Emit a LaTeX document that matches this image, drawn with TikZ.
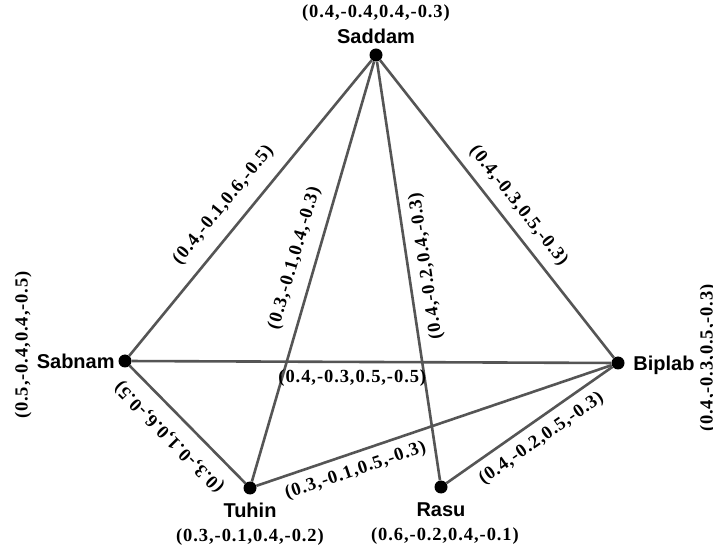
\documentclass[tikz,border=0pt]{standalone}
\usepackage{fontspec}
\setmainfont{Liberation Serif}
\newfontfamily\namefont{Liberation Sans}
\newfontfamily\tuplefont[LetterSpace=5]{Liberation Serif}
\usetikzlibrary{positioning}
\definecolor{Edge}{HTML}{555555}
\tikzset{
 dot/.style={circle, fill=black, inner sep=0pt, minimum size=13pt},
 who/.style={font=\namefont\bfseries\fontsize{20}{22}\selectfont, inner sep=0pt, text height=14.5pt, text depth=0pt},
 tuple/.style={font=\tuplefont\bfseries\fontsize{18.5}{20}\selectfont, inner sep=0pt, text height=13pt, text depth=4pt},
 link/.style={draw=Edge, line width=2.6pt}
}
\begin{document}
\begin{tikzpicture}[x=1pt,y=1pt]
\useasboundingbox (0,0) rectangle (713,555);
\fill[white] (0,0) rectangle (713,555);
% people
\node[dot] (saddam) at (376,500) {};
\node[dot] (sabnam) at (125,194) {};
\node[dot] (biplab) at (618,192) {};
\node[dot] (tuhin) at (250,67) {};
\node[dot] (rasu) at (441,68) {};
% names and own values
\node[who, above=5pt of saddam] (saddamname) {Saddam};
\node[tuple, above=7pt of saddamname] (saddamval) {(0.4,-0.4,0.4,-0.3)};
\node[who, left=3.5pt of sabnam] (sabnamname) {Sabnam};
\node[tuple, rotate=90] (sabnamval) at (23,210) {(0.5,-0.4,0.4,-0.5)};
\node[who, right=8.5pt of biplab] (biplabname) {Biplab};
\node[tuple, rotate=90] (biplabval) at (708,197) {(0.4,-0.3,0.5,-0.3)};
\node[who, below=8pt of tuhin] (tuhinname) {Tuhin};
\node[tuple, below=11pt of tuhinname] (tuhinval) {(0.3,-0.1,0.4,-0.2)};
\node[who, below=8pt of rasu] (rasuname) {Rasu};
\node[tuple, below=11pt of rasuname, xshift=4pt] (rasuval) {(0.6,-0.2,0.4,-0.1)};
% links
\draw[link] (sabnam) -- node[tuple, sloped, above=13pt, pos=.461] {(0.4,-0.1,0.6,-0.5)} (saddam);
\draw[link] (tuhin) -- node[tuple, sloped, above=11.5pt, pos=.518] {(0.3,-0.1,0.4,-0.3)} (saddam);
\draw[link] (rasu) -- node[tuple, sloped, allow upside down, below=8.5pt, pos=.506] {(0.4,-0.2,0.4,-0.3)} (saddam);
\draw[link] (saddam) -- node[tuple, sloped, above=9pt, pos=.529] {(0.4,-0.3,0.5,-0.3)} (biplab);
\draw[link] (sabnam) -- node[tuple, below=6.5pt, pos=.46] {(0.4,-0.3,0.5,-0.5)} (biplab);
\draw[link] (tuhin) -- node[tuple, sloped, allow upside down, above=12pt, pos=.523] {(0.3,-0.1,0.6,-0.5)} (sabnam);
\draw[link] (tuhin) -- node[tuple, sloped, below=8pt, pos=.263] {(0.3,-0.1,0.5,-0.3)} (biplab);
\draw[link] (rasu) -- node[tuple, sloped, below=8.5pt, pos=.509] {(0.4,-0.2,0.5,-0.3)} (biplab);
\end{tikzpicture}
\end{document}
